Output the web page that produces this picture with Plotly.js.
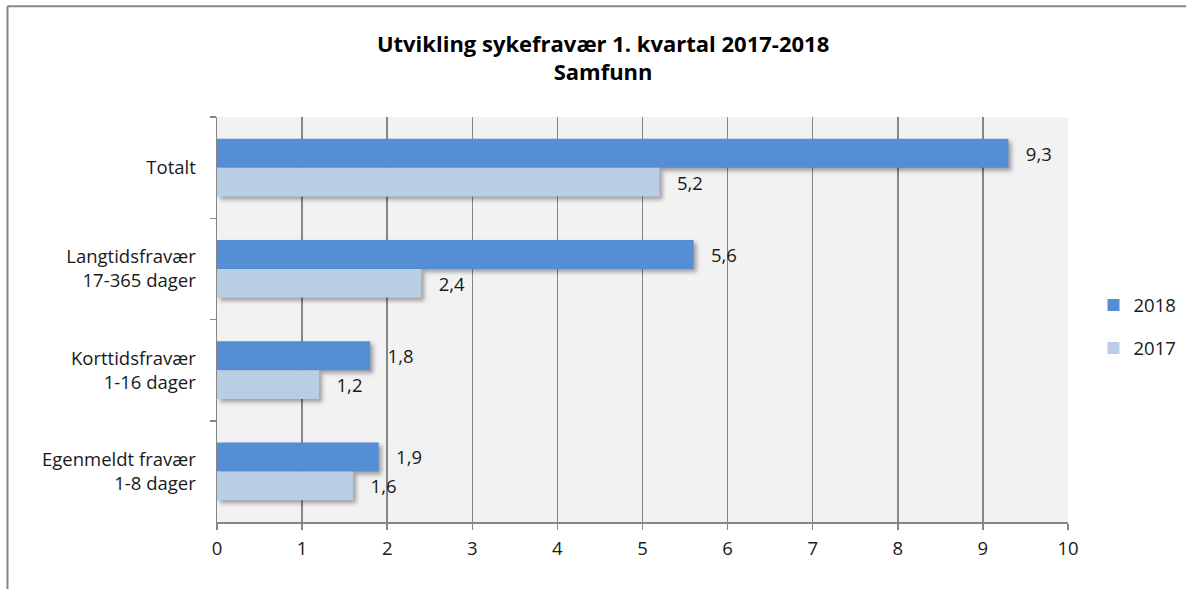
<!DOCTYPE html>
<html>
<head>
<meta charset="utf-8">
<script src="https://cdn.plot.ly/plotly-3.0.1.min.js"></script>
<style>html,body{margin:0;padding:0;background:#fff;}#chart{width:1186px;height:589px;}
#chart .barlayer .point path{filter: drop-shadow(3px 3px 2px rgba(0,0,0,0.35));}</style>
</head>
<body>
<div id="chart"></div>
<script>
const categories = ["Totalt", "Langtidsfravær<br>17-365 dager", "Korttidsfravær<br>1-16 dager", "Egenmeldt fravær<br>1-8 dager"];
const values2018 = [9.3, 5.6, 1.8, 1.9];
const values2017 = [5.2, 2.4, 1.2, 1.6];
const xTicks = [0,1,2,3,4,5,6,7,8,9,10];

const font = "Open Sans, Liberation Sans, sans-serif";
const textFont = {family: font, size: 18.5, color: "#1a1a1a"};

const traces = [
  {type: "bar", orientation: "h", name: "2018", y: categories, x: values2018,
   marker: {color: "#558ed5"}, text: values2018.map(v => v.toFixed(1).replace(".", ",")),
   texttemplate: "   %{text}", textposition: "outside", textfont: textFont, cliponaxis: false,
   legendgroup: "a", hoverinfo: "x+name"},
  {type: "bar", orientation: "h", name: "2017", y: categories, x: values2017,
   marker: {color: "#b9cde5"}, text: values2017.map(v => v.toFixed(1).replace(".", ",")),
   texttemplate: "   %{text}", textposition: "outside", textfont: textFont, cliponaxis: false,
   legendgroup: "b", hoverinfo: "x+name"}
];

const layout = {
  width: 1186, height: 589,
  margin: {l: 217, r: 118, t: 117, b: 67},
  paper_bgcolor: "#ffffff",
  plot_bgcolor: "#f2f2f2",
  separators: ",.",
  barmode: "group",
  bargap: 0.43,
  bargroupgap: 0,
  title: {text: "<b>Utvikling sykefravær 1. kvartal 2017-2018<br>Samfunn</b>",
          font: {family: font, size: 22, color: "#000"}, x: 0.5085, xanchor: "center",
          xref: "container", yref: "container", y: 0.912, yanchor: "top"},
  xaxis: {range: [0, 10], tickvals: xTicks, ticktext: xTicks.map(String),
          showgrid: true, gridcolor: "#868686", gridwidth: 1.5,
          showline: true, linecolor: "#868686", linewidth: 1.5, mirror: false,
          ticks: "outside", ticklen: 6, tickcolor: "#868686", tickwidth: 1.5,
          ticklabelstandoff: 3,
          tickfont: {family: font, size: 18.5, color: "#1a1a1a"}, zeroline: false, fixedrange: true},
  yaxis: {autorange: "reversed", type: "category", tickson: "boundaries",
          ticks: "outside", ticklen: 6, tickcolor: "#868686", tickwidth: 1.5,
          showline: true, linecolor: "#868686", linewidth: 1.5, showgrid: false,
          tickfont: {family: font, size: 18.5, color: "#1a1a1a"}, ticklabelstandoff: 16, fixedrange: true},
  legend: {xref: "container", yref: "container", x: 0.922, xanchor: "left", y: 0.445, yanchor: "middle",
           font: {family: font, size: 18.5, color: "#1a1a1a"},
           traceorder: "grouped", tracegroupgap: 16, itemwidth: 30},
  shapes: [
    {type: "line", xref: "paper", yref: "paper", x0: -0.2462, x1: 1.2, y0: 1.2735, y1: 1.2735,
     line: {color: "#868686", width: 2}},
    {type: "line", xref: "paper", yref: "paper", x0: -0.2462, x1: -0.2462, y0: 1.2735, y1: -0.2,
     line: {color: "#868686", width: 2}}
  ]
};

Plotly.newPlot("chart", traces, layout, {displayModeBar: false, staticPlot: true});
</script>
</body>
</html>
